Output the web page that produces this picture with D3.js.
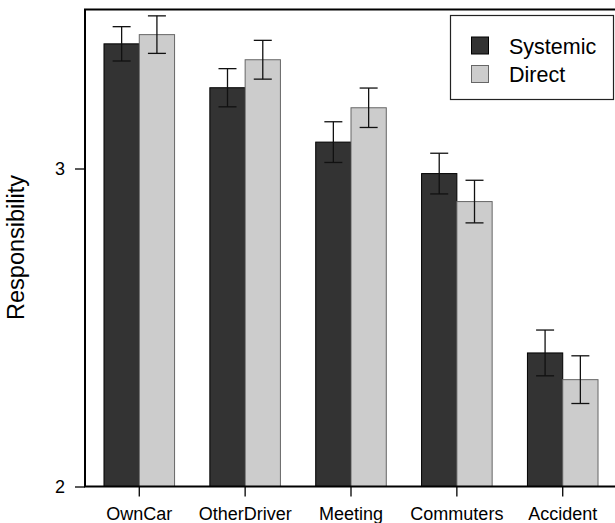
<!DOCTYPE html>
<html>
<head>
<meta charset="utf-8">
<script src="https://d3js.org/d3.v7.min.js"></script>
<style>
  body { margin: 0; background: #fff; }
  text { font-family: "Liberation Sans", Arial, Helvetica, sans-serif; fill: #000; }
</style>
</head>
<body>
<script>
var w = 615;
var h = 523;

// values
var categories = ["OwnCar", "OtherDriver", "Meeting", "Commuters", "Accident"];
var series = ["Systemic", "Direct"];
var systemicMeans = [3.392, 3.254, 3.083, 2.984, 2.420];
var directMeans = [3.421, 3.342, 3.191, 2.896, 2.336];
var systemicSE = [0.054, 0.060, 0.064, 0.064, 0.072];
var directSE = [0.059, 0.061, 0.062, 0.067, 0.075];
var yTicks = [2, 3];

var colors = { Systemic: "#333333", Direct: "#cccccc" };
var strokes = { Systemic: "#000000", Direct: "#666666" };

var rows = [];
for (var i = 0; i < categories.length; i++) {
    rows.push({ cat: categories[i], key: "Systemic", mean: systemicMeans[i], se: systemicSE[i] });
    rows.push({ cat: categories[i], key: "Direct", mean: directMeans[i], se: directSE[i] });
}

var svg = d3.select("body")
    .append("svg")
    .attr("width", w)
    .attr("height", h);

// note: "top" is taken by window.top, so use other names
var plotLeft = 85, plotTop = 9.5, plotBottom = 486.5;

var x0 = d3.scaleBand()
    .domain(categories)
    .range([68.7, 633.3])
    .paddingInner(1 / 3)
    .paddingOuter(1 / 3);

var x1 = d3.scaleBand()
    .domain(series)
    .range([0, x0.bandwidth()]);

var y = d3.scaleLinear()
    .domain([2, 3.5])
    .range([plotBottom, plotTop]);

// bars
svg.append("g")
    .selectAll("rect")
    .data(rows)
    .enter().append("rect")
    .attr("x", function(d) { return x0(d.cat) + x1(d.key); })
    .attr("y", function(d) { return y(d.mean); })
    .attr("width", x1.bandwidth())
    .attr("height", function(d) { return plotBottom - y(d.mean); })
    .attr("fill", function(d) { return colors[d.key]; })
    .attr("stroke", function(d) { return strokes[d.key]; })
    .attr("stroke-width", 1);

// error bars
var eb = svg.append("g")
    .attr("stroke", "#111")
    .attr("stroke-width", 1.3)
    .selectAll("g")
    .data(rows)
    .enter().append("g")
    .attr("transform", function(d) { return "translate(" + (x0(d.cat) + x1(d.key) + x1.bandwidth() / 2) + ",0)"; });

eb.append("line")
    .attr("y1", function(d) { return y(d.mean + d.se); })
    .attr("y2", function(d) { return y(d.mean - d.se); });
eb.append("line")
    .attr("x1", -9).attr("x2", 9)
    .attr("y1", function(d) { return y(d.mean + d.se); })
    .attr("y2", function(d) { return y(d.mean + d.se); });
eb.append("line")
    .attr("x1", -9).attr("x2", 9)
    .attr("y1", function(d) { return y(d.mean - d.se); })
    .attr("y2", function(d) { return y(d.mean - d.se); });

// frame: left, top, bottom
svg.append("path")
    .attr("d", "M" + w + "," + plotTop + "H" + plotLeft + "V" + plotBottom + "H" + w)
    .attr("fill", "none")
    .attr("stroke", "#000")
    .attr("stroke-width", 2);

// y axis
var yAxis = svg.append("g")
    .attr("transform", "translate(" + plotLeft + ",0)")
    .call(d3.axisLeft(y).tickValues(yTicks).tickFormat(d3.format("d")).tickSize(10).tickPadding(10));
yAxis.select(".domain").remove();
yAxis.selectAll(".tick line").attr("stroke", "#000").attr("stroke-width", 1.3);
yAxis.selectAll("text").attr("font-size", 18).attr("font-family", null);

// x axis
var xAxis = svg.append("g")
    .attr("transform", "translate(0," + plotBottom + ")")
    .call(d3.axisBottom(x0).tickSize(10).tickPadding(11));
xAxis.select(".domain").remove();
xAxis.selectAll(".tick line").attr("stroke", "#000").attr("stroke-width", 1.3);
xAxis.selectAll("text").attr("font-size", 18).attr("font-family", null);

// y label
svg.append("text")
    .attr("transform", "translate(24,247.5) rotate(-90)")
    .attr("text-anchor", "middle")
    .attr("font-size", 23.5)
    .text("Responsibility");

// legend
var legend = svg.append("g");
legend.append("rect")
    .attr("x", 450.5).attr("y", 15.5)
    .attr("width", 163).attr("height", 84)
    .attr("fill", "#fff")
    .attr("stroke", "#222")
    .attr("stroke-width", 1.2);

var item = legend.selectAll("g")
    .data(series)
    .enter().append("g")
    .attr("transform", function(d, i) { return "translate(0," + (46 + i * 28.5) + ")"; });

item.append("rect")
    .attr("x", 471.5).attr("y", -9)
    .attr("width", 17).attr("height", 17)
    .attr("fill", function(d) { return colors[d]; })
    .attr("stroke", function(d) { return strokes[d]; });

item.append("text")
    .attr("x", 509)
    .attr("y", 7.5)
    .attr("font-size", 21.5)
    .text(function(d) { return d; });
</script>
</body>
</html>
